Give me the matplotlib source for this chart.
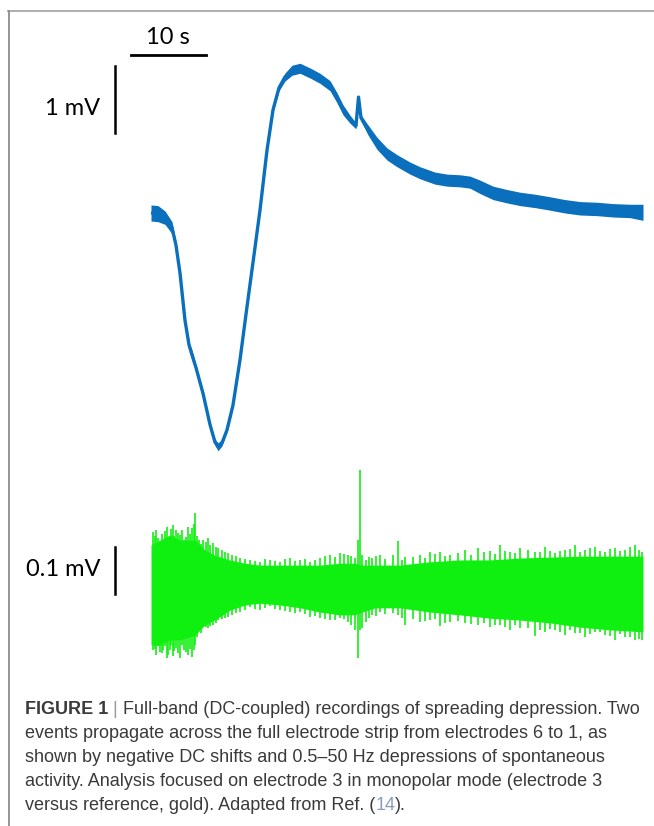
import numpy as np
import matplotlib
matplotlib.use('Agg')
import matplotlib.pyplot as plt
from matplotlib.lines import Line2D

# DC-coupled trace (top, blue): time in s, potential in mV, noise half-width in mV
dc_time = [0.0, 0.93, 1.87, 2.8, 3.33, 3.87, 4.53, 5.07, 5.47, 6.0, 6.93, 7.87, 8.53,
           8.93, 9.47, 10.13, 10.93, 11.87, 12.8, 13.73, 14.53, 15.47, 16.27, 17.07,
           17.87, 18.8, 19.87, 21.2, 22.53, 23.87, 24.8, 25.6, 26.53, 27.33, 27.67,
           28.0, 28.93, 30.13, 31.47, 32.8, 34.53, 35.87, 37.87, 39.47, 41.2, 42.53,
           43.87, 45.6, 47.47, 49.2, 51.2, 52.8, 55.2, 57.2, 59.47, 61.6, 63.87, 65.6]
dc_mv = [0.0, -0.01, -0.07, -0.22, -0.48, -0.90, -1.60, -1.97, -2.12, -2.31, -2.69,
         -3.16, -3.42, -3.49, -3.43, -3.24, -2.87, -2.19, -1.40, -0.63, 0.04, 0.94,
         1.54, 1.87, 2.03, 2.13, 2.16, 2.09, 2.01, 1.90, 1.72, 1.54, 1.40, 1.30, 1.73,
         1.42, 1.24, 1.04, 0.88, 0.78, 0.67, 0.60, 0.52, 0.49, 0.48, 0.46, 0.39, 0.30,
         0.25, 0.21, 0.18, 0.15, 0.10, 0.07, 0.06, 0.04, 0.03, 0.01]
dc_noise = [0.12, 0.12, 0.10, 0.09, 0.045, 0.03, 0.03, 0.045, 0.075, 0.045, 0.03,
            0.03, 0.045, 0.06, 0.045, 0.03, 0.03, 0.03, 0.03, 0.03, 0.03, 0.03, 0.03,
            0.045, 0.06, 0.075, 0.075, 0.075, 0.075, 0.075, 0.075, 0.075, 0.06, 0.045,
            0.015, 0.045, 0.075, 0.09, 0.09, 0.09, 0.09, 0.09, 0.09, 0.09, 0.09, 0.09,
            0.10, 0.10, 0.10, 0.10, 0.10, 0.10, 0.10, 0.10, 0.10, 0.10, 0.10, 0.12]

# 0.5-50 Hz band (bottom, green): dense envelope in uV
ac_time = [0, 1.2, 2.5, 3.9, 5.9, 7.2, 8.5, 10.5, 12.5, 14.5, 17.2, 19.9, 22.5, 25.2,
           27.2, 28.1, 29.9, 33.2, 37.2, 41.2, 45.2, 49.2, 53.2, 57.2, 61.2, 65.6]
ac_upper = [96, 106, 117, 106, 106, 85, 74, 64, 57, 53, 53, 53, 53, 57, 57, 53, 53,
            53, 60, 64, 64, 68, 70, 72, 72, 72]
ac_lower = [-117, -117, -106, -106, -96, -74, -64, -43, -32, -28, -32, -38, -47, -53,
            -53, -47, -38, -38, -47, -53, -60, -64, -70, -79, -85, -89]

# largest excursions beyond the envelope (time s, max uV, min uV)
spike_time = [0.27, 0.67, 1.2, 1.6, 2.13, 2.53, 2.93, 3.33, 3.87, 4.4, 4.93, 5.47, 5.87,
              6.4, 6.93, 7.6, 8.27, 8.93, 9.87, 10.8, 11.87, 13.2, 14.53, 15.87, 17.2,
              18.53, 19.87, 21.2, 22.53, 23.87, 25.2, 26.27, 27.2, 27.6, 27.87, 28.13,
              28.67, 29.47, 30.53, 32.93, 33.87, 35.87, 37.2, 38.53, 39.87, 41.87, 43.6,
              45.2, 46.53, 47.87, 49.2, 51.2, 52.53, 53.87, 55.2, 56.53, 57.87, 59.2,
              60.53, 61.87, 63.2, 64.53, 65.47]
spike_hi = [123, 128, 96, 106, 134, 106, 138, 128, 117, 106, 134, 132, 164, 106, 106,
            111, 100, 89, 81, 74, 68, 64, 60, 64, 60, 68, 64, 60, 68, 74, 79, 74, 68,
            106, 255, 74, 64, 68, 74, 104, 70, 74, 81, 81, 74, 85, 89, 83, 96, 81, 89,
            81, 91, 79, 85, 96, 85, 91, 81, 89, 85, 96, 81]
spike_lo = [-128, -138, -132, -128, -145, -128, -140, -123, -145, -128, -138, -143,
            -117, -85, -74, -81, -74, -64, -60, -53, -47, -36, -43, -34, -43, -47, -47,
            -57, -60, -64, -60, -68, -85, -145, -85, -81, -68, -53, -47, -53, -74, -68,
            -64, -77, -68, -70, -74, -79, -74, -85, -81, -98, -89, -85, -96, -91, -100,
            -89, -96, -106, -100, -106, -106]

# smaller excursions in between
minor_time = [0.47, 0.93, 1.4, 1.87, 2.33, 2.73, 3.13, 3.6, 4.13, 4.67, 5.2, 5.67, 6.13,
              6.67, 7.27, 7.93, 8.6, 9.4, 10.33, 11.33, 12.5, 13.87, 15.2, 16.5, 17.87,
              19.2, 20.53, 21.87, 23.2, 24.53, 25.73, 26.73, 29.0, 30.0, 31.2, 32.2,
              33.4, 34.9, 36.5, 37.9, 39.2, 40.9, 42.7, 44.4, 45.9, 47.2, 48.5, 50.2,
              51.9, 53.2, 54.5, 55.9, 57.2, 58.5, 59.9, 61.2, 62.5, 63.9, 65.0]
minor_hi = [115, 110, 120, 125, 112, 130, 115, 122, 128, 112, 120, 140, 115, 98, 102,
            95, 92, 85, 78, 72, 66, 62, 66, 62, 66, 62, 66, 64, 72, 70, 76, 72, 70, 72,
            66, 74, 64, 70, 68, 76, 72, 78, 74, 80, 76, 84, 78, 86, 80, 84, 82, 88, 80,
            90, 84, 88, 82, 92, 86]
minor_lo = [-125, -120, -135, -120, -138, -118, -130, -135, -118, -132, -125, -128,
            -100, -92, -78, -76, -70, -62, -57, -50, -42, -40, -38, -40, -45, -50, -52,
            -55, -62, -64, -62, -75, -60, -55, -52, -50, -60, -62, -66, -62, -70, -66,
            -72, -70, -75, -78, -74, -80, -86, -82, -90, -86, -92, -94, -90, -98, -94,
            -100, -104]

caption = [
    [("FIGURE 1", "bold", "#3a3a3a"), (" | ", "normal", "#9a9a9a"),
     ("Full-band (DC-coupled) recordings of spreading depression. Two", "normal", "#3a3a3a")],
    [("events propagate across the full electrode strip from electrodes 6 to 1, as", "normal", "#3a3a3a")],
    [("shown by negative DC shifts and 0.5\u201350 Hz depressions of spontaneous", "normal", "#3a3a3a")],
    [("activity. Analysis focused on electrode 3 in monopolar mode (electrode 3", "normal", "#3a3a3a")],
    [("versus reference, gold). Adapted from Ref. (", "normal", "#3a3a3a"),
     ("14", "normal", "#8a9db3"), (").", "normal", "#3a3a3a")],
]

BLUE = '#0a6fbd'
GREEN = '#10f010'
W, H = 654, 826

fig = plt.figure(figsize=(W / 100, H / 100), dpi=100)

# frame around the figure panel
fig.add_artist(Line2D([8 / W, 1], [1 - 10.5 / H] * 2, color='#a8a8a8', lw=1.3))
fig.add_artist(Line2D([8.5 / W] * 2, [0, 1 - 10.5 / H], color='#8c8c8c', lw=1.3))

# time axis: 7.5 px per second, trace starts at x=151 px
xlim = (-151 / 7.5, (W - 151) / 7.5)

ax_dc = fig.add_axes([0, 1 - 460 / H, 1, 460 / H])
ax_dc.set_xlim(xlim)
ax_dc.set_ylim(-3.687, 3.179)
ax_dc.axis('off')

t = np.array(dc_time)
v = np.array(dc_mv)
n = np.array(dc_noise)
ax_dc.fill_between(t, v - n, v + n, color=BLUE, lw=0)
ax_dc.plot(t, v, color=BLUE, lw=2.4, solid_joinstyle='round', solid_capstyle='butt')

# scale bars
ax_dc.plot([-2.67, -2.67 + 10], [2.36, 2.36], color='k', lw=2)
ax_dc.plot([-4.8, -4.8], [1.19, 1.19 + 1], color='k', lw=1.8)
ax_dc.text(2.2, 2.52, '10 s', family='Lato', fontsize=17, ha='center', va='baseline')
ax_dc.text(-6.8, 1.46, '1 mV', family='Lato', fontsize=17, ha='right', va='baseline')

ax_ac = fig.add_axes([0, 1 - 680 / H, 1, 220 / H])
ax_ac.set_xlim(xlim)
ax_ac.set_ylim(-191.5, 276.6)
ax_ac.axis('off')

ax_ac.fill_between(ac_time, ac_lower, ac_upper, color=GREEN, lw=0)
ax_ac.vlines(spike_time, spike_lo, spike_hi, color=GREEN, lw=1.2)
ax_ac.vlines(minor_time, minor_lo, minor_hi, color=GREEN, lw=1.2)
ax_ac.plot([-4.8, -4.8], [-8.5, -8.5 + 100], color='k', lw=1.8)
ax_ac.text(-6.8, 29.8, '0.1 mV', family='Lato', fontsize=17, ha='right', va='baseline')

# caption
cap_family = ['Liberation Sans Narrow', 'Liberation Sans', 'DejaVu Sans']
renderer = fig.canvas.get_renderer()


def draw_caption(fs):
    artists = []
    widths = []
    for i, line in enumerate(caption):
        x = 25
        y = 714 + i * 24.1
        for txt, weight, col in line:
            a = fig.text(x / W, 1 - y / H, txt, family=cap_family, fontsize=fs,
                         weight=weight, color=col, ha='left', va='baseline')
            artists.append(a)
            x += a.get_window_extent(renderer).width
        widths.append(x - 25)
    return artists, widths


arts, widths = draw_caption(12)
scale = 617 / widths[0]
for a in arts:
    a.remove()
draw_caption(12 * scale)

fig.savefig('out.png', dpi=100)
